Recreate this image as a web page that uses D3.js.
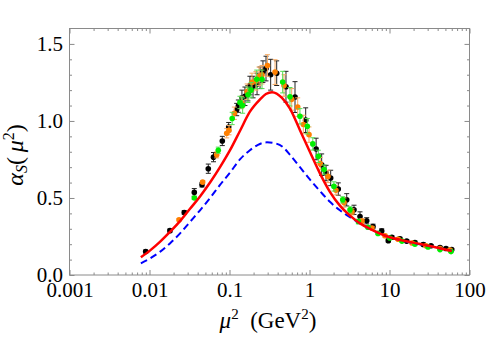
<!DOCTYPE html>
<html>
<head>
<meta charset="utf-8">
<script src="https://cdnjs.cloudflare.com/ajax/libs/d3/7.8.5/d3.min.js"></script>
<style>
body { margin: 0; background: #fff; }
svg text { font-family: "Liberation Serif", "Times New Roman", Times, serif !important; }
</style>
</head>
<body>
<div id="chart"></div>
<script>
// curves: [mu2, alpha]
const redCurve = [[0.0078,0.115],[0.0102,0.16],[0.0135,0.215],[0.018,0.28],[0.0241,0.35],[0.0321,0.43],
    [0.0428,0.51],[0.0571,0.60],[0.0761,0.70],[0.1015,0.81],[0.135,0.935],[0.18,1.06],[0.241,1.14],
    [0.285,1.175],[0.34,1.187],[0.453,1.15],[0.57,1.08],[0.76,0.94],[1.01,0.80],[1.35,0.66],[1.8,0.54],
    [2.4,0.45],[3.21,0.385],[4.28,0.335],[5.7,0.30],[10.1,0.245],[18,0.215],[32,0.188],[60,0.156]];
const blueCurve = [[0.0078,0.076],[0.0102,0.108],[0.0135,0.15],[0.018,0.205],[0.0241,0.27],[0.0321,0.345],
    [0.0428,0.42],[0.0571,0.50],[0.0761,0.585],[0.1015,0.665],[0.135,0.75],[0.18,0.81],[0.227,0.845],
    [0.294,0.861],[0.371,0.855],[0.467,0.83],[0.57,0.78],[0.76,0.70],[1.01,0.62],[1.35,0.545],[1.8,0.475],
    [2.4,0.42],[3.21,0.375],[4.28,0.335],[5.7,0.30],[10.1,0.245],[18,0.212],[32,0.186],[60,0.157]];

// data points: [mu2, alpha, error]
const blackPts = [[0.00896,0.152,0.01],[0.018,0.288,0.01],[0.0272,0.406,0.012],[0.0363,0.536,0.025],
    [0.0453,0.586,0.015],[0.0543,0.69,0.03],[0.0631,0.765,0.03],[0.0813,0.87,0.03],[0.0977,0.96,0.03],
    [0.123,1.074,0.04],[0.129,1.096,0.04],[0.143,1.15,0.05],[0.156,1.16,0.06],[0.17,1.18,0.05],
    [0.18,1.23,0.06],[0.197,1.22,0.07],[0.221,1.24,0.07],[0.241,1.28,0.07],[0.262,1.32,0.07],
    [0.286,1.34,0.08],[0.327,1.30,0.1],[0.389,1.31,0.08],[0.508,1.222,0.1],[0.659,1.155,0.1],
    [0.896,1.005,0.08],[1.21,0.818,0.07],[1.42,0.716,0.07],[1.61,0.662,0.05],[1.84,0.63,0.05],
    [2.29,0.558,0.04],[2.92,0.488,0.04],[3.6,0.423,0.03],[4.28,0.38,0.03],[5.19,0.352,0.02],
    [6.22,0.315,0.015],[7.99,0.285,0.015],[9.66,0.223,0.01],[10.7,0.245,0.01],[13.5,0.235,0.01],
    [16.4,0.22,0.01],[20.8,0.21,0.01],[26.5,0.198,0.01],[33,0.19,0.008],[42.8,0.178,0.008],
    [50.8,0.172,0.008],[59.9,0.165,0.008]];
const orangePts = [[0.0234,0.358,0.008],[0.0462,0.603,0.01],[0.0692,0.78,0.02],[0.0923,0.92,0.03],
    [0.0986,0.94,0.03],[0.115,1.05,0.04],[0.142,1.12,0.04],[0.166,1.19,0.05],[0.191,1.25,0.06],
    [0.214,1.26,0.06],[0.234,1.29,0.06],[0.255,1.30,0.06],[0.298,1.36,0.07],[0.371,1.317,0.08],
    [0.48,1.23,0.07],[0.599,1.14,0.07],[0.712,1.09,0.06],[0.837,0.977,0.06],[0.986,0.911,0.05],
    [1.36,0.723,0.04],[1.7,0.64,0.04],[2.14,0.55,0.03],[2.7,0.47,0.03],[3.4,0.41,0.02],
    [4.53,0.35,0.015],[6.04,0.305,0.01],[8.79,0.255,0.01],[12.8,0.232,0.008],[19.1,0.208,0.006],
    [28.6,0.19,0.006],[42.8,0.172,0.006],[57,0.162,0.006]];
const greenPts = [[0.0363,0.50,0.01],[0.0724,0.81,0.02],[0.108,1.016,0.04],[0.135,1.12,0.04],
    [0.146,1.10,0.05],[0.17,1.17,0.05],[0.186,1.20,0.05],[0.219,1.27,0.06],[0.255,1.27,0.06],
    [0.462,1.252,0.07],[0.57,1.157,0.06],[0.76,1.03,0.05],[0.939,0.966,0.05],[1.1,0.851,0.04],
    [1.29,0.77,0.04],[1.52,0.684,0.03],[2.02,0.575,0.03],[2.6,0.488,0.02],[3.21,0.423,0.02],
    [4.08,0.347,0.015],[5.38,0.31,0.01],[7.18,0.27,0.008],[10.1,0.24,0.006],[14.3,0.22,0.006],
    [20.8,0.2,0.005],[30.3,0.182,0.005],[42.8,0.165,0.005],[58.7,0.152,0.005]];

const xMajor = [0.001, 0.01, 0.1, 1, 10, 100];
const xLabels = ["0.001", "0.01", "0.1", "1", "10", "100"];
const yMajor = [0, 0.5, 1.0, 1.5];

const width = 486, height = 339;
const margin = { top: 28.5, right: 16.5, bottom: 64, left: 69.5 };
const serif = '"Liberation Serif", "Times New Roman", Times, serif';

const svg = d3.select("#chart").append("svg")
    .attr("width", width)
    .attr("height", height);

const x = d3.scaleLog().domain([0.001, 100]).range([margin.left, width - margin.right]);
const y = d3.scaleLinear().domain([0, 1.6]).range([height - margin.bottom, margin.top]);

// minor ticks
let xMinor = [];
xMajor.slice(0, -1).forEach(d => {
    for (let k = 2; k <= 9; k++) xMinor.push(d * k);
});
const yMinor = d3.range(0, 16).map(i => i / 10).filter(v => yMajor.indexOf(v) < 0);

const frameColor = "#8a8a8a";

function drawAxis(axis, tx, ty) {
    const g = svg.append("g").attr("transform", "translate(" + tx + "," + ty + ")").call(axis);
    g.attr("font-family", null);
    g.select(".domain").remove();
    g.selectAll("line").attr("stroke", frameColor);
    return g;
}

const bottom = height - margin.bottom, right = width - margin.right;

// bottom axis with labels
const xb = drawAxis(d3.axisBottom(x).tickValues(xMajor).tickSize(-5).tickPadding(7)
    .tickFormat((d, i) => xLabels[i]), 0, bottom);
xb.selectAll("text").attr("fill", "#000")
    .style("font-family", serif).style("font-size", "21px");
drawAxis(d3.axisBottom(x).tickValues(xMinor).tickSize(-2.5).tickFormat(""), 0, bottom);
drawAxis(d3.axisTop(x).tickValues(xMajor).tickSize(-5).tickFormat(""), 0, margin.top);
drawAxis(d3.axisTop(x).tickValues(xMinor).tickSize(-2.5).tickFormat(""), 0, margin.top);

// left axis with labels
const yl = drawAxis(d3.axisLeft(y).tickValues(yMajor).tickSize(-5).tickPadding(6.5)
    .tickFormat(d3.format(".1f")), margin.left, 0);
yl.selectAll("text").attr("fill", "#000")
    .style("font-family", serif).style("font-size", "21px");
drawAxis(d3.axisLeft(y).tickValues(yMinor).tickSize(-2.5).tickFormat(""), margin.left, 0);
drawAxis(d3.axisRight(y).tickValues(yMajor).tickSize(-5).tickFormat(""), right, 0);
drawAxis(d3.axisRight(y).tickValues(yMinor).tickSize(-2.5).tickFormat(""), right, 0);

// frame
svg.append("rect")
    .attr("x", margin.left).attr("y", margin.top)
    .attr("width", right - margin.left).attr("height", bottom - margin.top)
    .attr("fill", "none").attr("stroke", frameColor).attr("stroke-width", 1);

// data with error bars
function drawPoints(pts, color, barColor) {
    const g = svg.append("g");
    const cap = 2.5;
    pts.forEach(p => {
        const cx = x(p[0]), y1 = y(p[1] - p[2]), y2 = y(p[1] + p[2]);
        g.append("line").attr("x1", cx).attr("x2", cx).attr("y1", y1).attr("y2", y2)
            .attr("stroke", barColor).attr("stroke-width", 1);
        g.append("line").attr("x1", cx - cap).attr("x2", cx + cap).attr("y1", y1).attr("y2", y1)
            .attr("stroke", barColor).attr("stroke-width", 1);
        g.append("line").attr("x1", cx - cap).attr("x2", cx + cap).attr("y1", y2).attr("y2", y2)
            .attr("stroke", barColor).attr("stroke-width", 1);
    });
    g.selectAll("circle").data(pts).enter().append("circle")
        .attr("cx", d => x(d[0]))
        .attr("cy", d => y(d[1]))
        .attr("r", 2.8)
        .attr("fill", color);
}

drawPoints(blackPts, "#000", "#222");
drawPoints(orangePts, "#ff8000", "#f5a860");
drawPoints(greenPts, "#00ee00", "#55dd55");

const line = d3.line().x(d => x(d[0])).y(d => y(d[1])).curve(d3.curveMonotoneX);

svg.append("path").datum(blueCurve)
    .attr("d", line).attr("fill", "none")
    .attr("stroke", "#0000ff").attr("stroke-width", 2)
    .attr("stroke-dasharray", "7,4");

svg.append("path").datum(redCurve)
    .attr("d", line).attr("fill", "none")
    .attr("stroke", "#ff0000").attr("stroke-width", 2.5);

// axis titles
const xt = svg.append("text")
    .attr("x", 268).attr("y", 328)
    .attr("text-anchor", "middle")
    .style("font-family", serif).style("font-size", "23px");
xt.append("tspan").attr("font-style", "italic").text("\u03bc");
xt.append("tspan").attr("dy", -9).style("font-size", "15px").text("2");
xt.append("tspan").attr("dy", 9).text("\u00a0 (GeV");
xt.append("tspan").attr("dy", -9).style("font-size", "15px").text("2");
xt.append("tspan").attr("dy", 9).text(")");

const yt = svg.append("text")
    .attr("transform", "translate(23,155) rotate(-90)")
    .attr("text-anchor", "middle")
    .style("font-family", serif).style("font-size", "24px");
yt.append("tspan").attr("font-style", "italic").text("\u03b1");
yt.append("tspan").attr("dy", 4).style("font-size", "16px").attr("font-style", "italic").text("S");
yt.append("tspan").attr("dy", -4).text("(\u2009");
yt.append("tspan").attr("font-style", "italic").text("\u03bc");
yt.append("tspan").attr("dy", -9).style("font-size", "16px").text("2");
yt.append("tspan").attr("dy", 9).text(")");
</script>
</body>
</html>
